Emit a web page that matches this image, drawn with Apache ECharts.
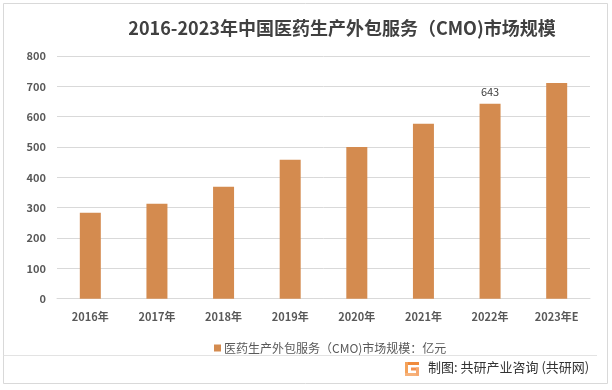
<!DOCTYPE html>
<html>
<head>
<meta charset="utf-8">
<script src="https://cdn.jsdelivr.net/npm/echarts@6/dist/echarts.min.js"></script>
<style>
html,body{margin:0;padding:0;background:#fff;}
#chart{width:612px;height:390px;}
</style>
</head>
<body>
<div id="chart"></div>
<script>
const titleText = '2016-2023年中国医药生产外包服务（CMO)市场规模';
const categories = ['2016年','2017年','2018年','2019年','2020年','2021年','2022年','2023年E'];
const values = [283, 313, 369, 458, 500, 577, 643, 711];
const labeledIndex = 6;
const seriesName = '医药生产外包服务（CMO)市场规模：亿元';
const sourceText = '制图: 共研产业咨询 (共研网)';
const yTicks = { min: 0, max: 800, interval: 100 };

const font = "'Noto Sans CJK SC', 'Noto Sans', sans-serif";
const chart = echarts.init(document.getElementById('chart'), null, { renderer: 'canvas' });

chart.setOption({
  backgroundColor: '#ffffff',
  animation: false,
  title: {
    text: titleText,
    left: 337, top: 14, textAlign: 'center',
    textStyle: { fontFamily: font, fontSize: 18, fontWeight: 'bold', color: '#404040' }
  },
  grid: { left: 57, right: 22, top: 56, bottom: 91.3, containLabel: false },
  legend: {
    data: [seriesName],
    left: 209, top: 337,
    itemWidth: 7, itemHeight: 7, itemGap: 4,
    icon: 'rect',
    textStyle: { fontFamily: font, fontSize: 12, color: '#595959', padding: [0, 0, 0, -2] }
  },
  xAxis: {
    type: 'category',
    data: categories,
    axisLine: { show: true, lineStyle: { color: '#d9d9d9', width: 1 } },
    axisTick: { show: false },
    axisLabel: { fontFamily: font, fontSize: 11, fontWeight: 'bold', color: '#595959', margin: 13 }
  },
  yAxis: {
    type: 'value',
    min: yTicks.min, max: yTicks.max, interval: yTicks.interval,
    axisLine: { show: false },
    axisTick: { show: false },
    splitLine: { lineStyle: { color: '#d9d9d9', width: 1 } },
    axisLabel: { fontFamily: font, fontSize: 11, fontWeight: 'bold', color: '#595959', margin: 11 }
  },
  series: [{
    name: seriesName,
    type: 'bar',
    barWidth: 21,
    itemStyle: { color: '#D48B4F' },
    data: values.map((v, i) => i === labeledIndex ? {
      value: v,
      label: { show: true, position: 'top', distance: 6, fontFamily: font, fontSize: 11, color: '#404040' }
    } : v)
  }],
  graphic: [
    { type: 'rect', shape: { x: 3.5, y: 3.5, width: 604, height: 380 }, style: { fill: 'none', stroke: '#d9d9d9', lineWidth: 1 }, silent: true },
    { type: 'line', shape: { x1: 3.5, y1: 355.5, x2: 597, y2: 355.5 }, style: { stroke: '#e3e3e3', lineWidth: 1 }, silent: true },
    { type: 'group', left: 405, top: 362, children: [
      { type: 'rect', shape: { x: 0, y: 0, width: 14, height: 3 }, style: { fill: '#F08A3C' } },
      { type: 'rect', shape: { x: 0, y: 0, width: 3, height: 14 }, style: { fill: '#F4A25A' } },
      { type: 'rect', shape: { x: 0, y: 11, width: 14, height: 3 }, style: { fill: '#F7B27A' } },
      { type: 'rect', shape: { x: 6, y: 5.5, width: 8, height: 3 }, style: { fill: '#F39050' } },
      { type: 'rect', shape: { x: 11, y: 5.5, width: 3, height: 8 }, style: { fill: '#F6A870' } }
    ]},
    { type: 'text', left: 428, top: 361, style: { text: sourceText, fontFamily: font, fontSize: 13, fill: '#333333' } }
  ]
});
</script>
</body>
</html>
